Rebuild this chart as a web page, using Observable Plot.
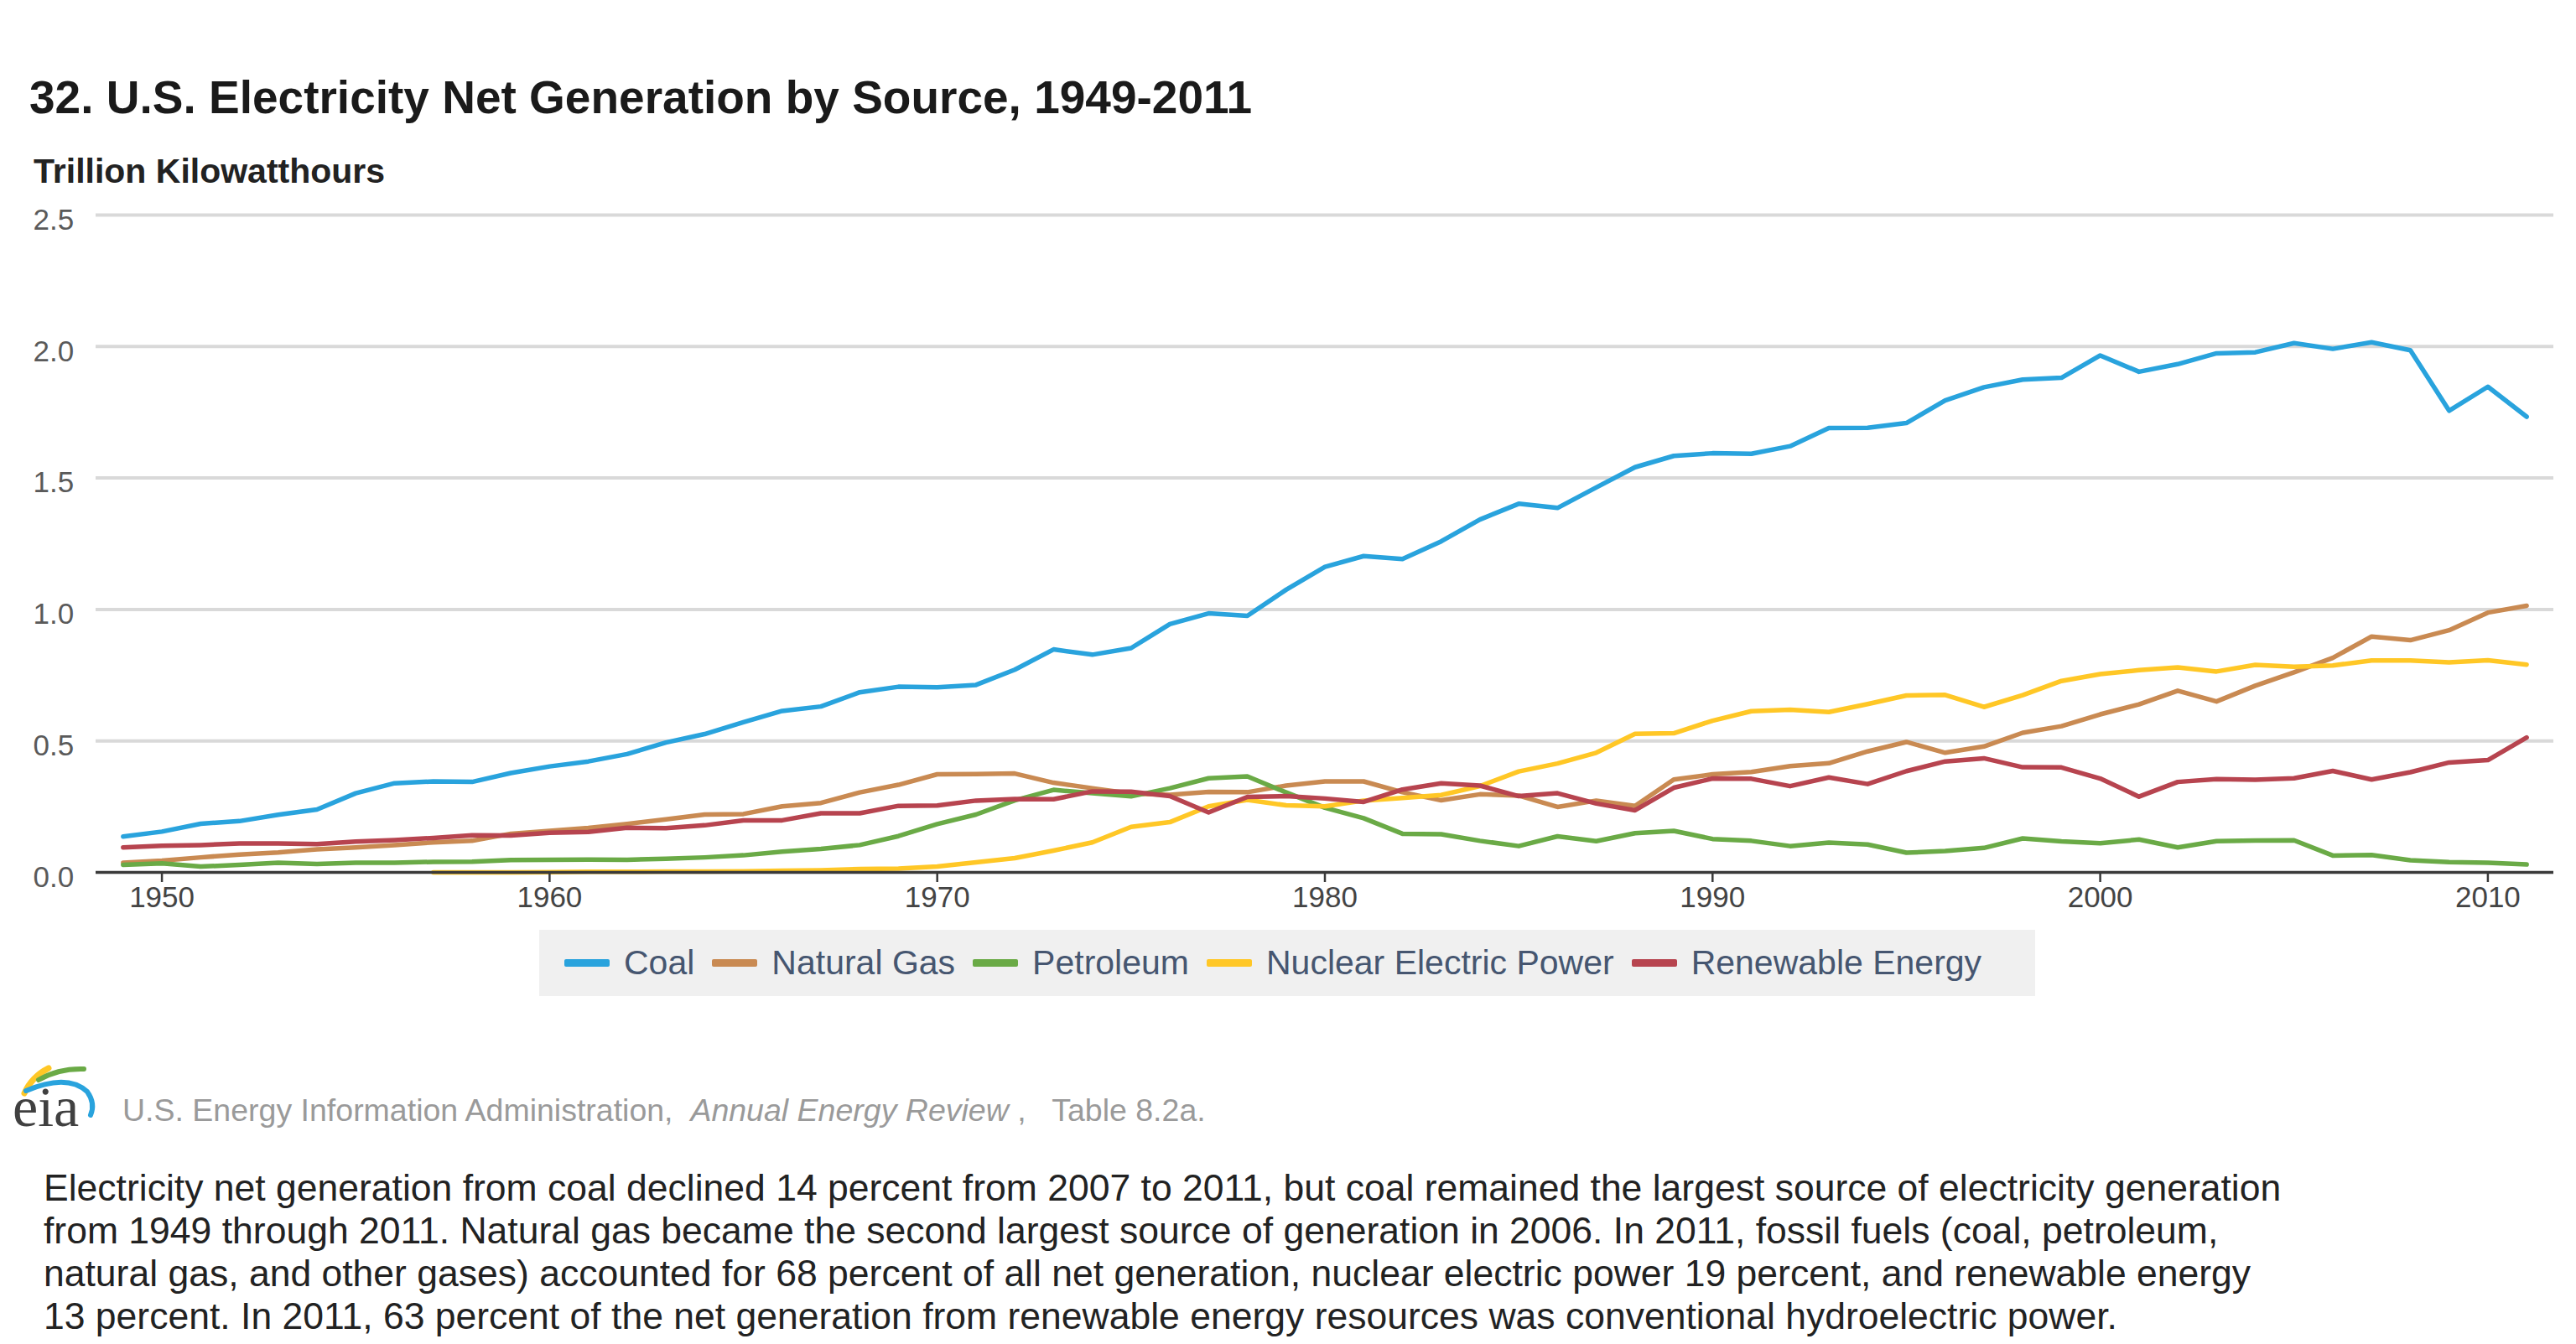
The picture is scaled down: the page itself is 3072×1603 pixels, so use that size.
<!DOCTYPE html>
<html>
<head>
<meta charset="utf-8">
<script src="https://cdn.jsdelivr.net/npm/d3@7"></script>
<script src="https://cdn.jsdelivr.net/npm/@observablehq/plot@0.6"></script>
<style>
  html, body { margin: 0; padding: 0; background: #fff; }
  body { width: 3072px; height: 1603px; position: relative; overflow: hidden;
         font-family: "Liberation Sans", Arial, Helvetica, sans-serif; }
  .abs { position: absolute; white-space: nowrap; line-height: 1; }
  #title { left: 35px; top: 89px; font-size: 55px; font-weight: bold; color: #1a1a1a; }
  #subtitle { left: 40px; top: 184px; font-size: 41px; font-weight: bold; color: #222; }
  #chart { position: absolute; left: 0; top: 225px; }
  #legend { left: 643px; top: 1109px; width: 1784px; height: 79px; background: #f0f0f0;
            display: flex; align-items: center; box-sizing: border-box; padding-left: 30px; }
  .item { display: flex; align-items: center; margin-right: 21px; font-size: 41px; color: #465670; }
  .sw { width: 54px; height: 9px; margin-right: 17px; border-radius: 2px; }
  #source { left: 146px; top: 1306px; font-size: 37.5px; color: #9a9a9a; }
  #logo { position: absolute; left: 0; top: 1260px; }
  #para { left: 52px; top: 1391px; font-size: 44.5px; color: #222; line-height: 51px; }
</style>
</head>
<body>
<div id="title" class="abs">32. U.S. Electricity Net Generation by Source, 1949-2011</div>
<div id="subtitle" class="abs">Trillion Kilowatthours</div>
<div id="chart"></div>
<div id="legend" class="abs"></div>
<svg id="logo" width="130" height="100" viewBox="0 0 130 100">
  <path d="M29 44 Q 38 24 58 14" fill="none" stroke="#ffc726" stroke-width="7" stroke-linecap="round"/>
  <path d="M46 28 Q 70 14 100 15" fill="none" stroke="#6aaa46" stroke-width="6" stroke-linecap="round"/>
  <path d="M31 41 Q 80 20 104 42 Q 114 56 108 70" fill="none" stroke="#29a3dd" stroke-width="6" stroke-linecap="round"/>
  <text x="15" y="83" font-family="Liberation Serif, DejaVu Serif, serif" font-size="68" fill="#404040">eia</text>
</svg>
<div id="source" class="abs">U.S. Energy Information Administration,&nbsp; <i>Annual Energy Review</i> ,&nbsp;&nbsp; Table 8.2a.</div>
<div id="para" class="abs">Electricity net generation from coal declined 14 percent from 2007 to 2011, but coal remained the largest source of electricity generation<br>from 1949 through 2011. Natural gas became the second largest source of generation in 2006. In 2011, fossil fuels (coal, petroleum,<br>natural gas, and other gases) accounted for 68 percent of all net generation, nuclear electric power 19 percent, and renewable energy<br>13 percent. In 2011, 63 percent of the net generation from renewable energy resources was conventional hydroelectric power.</div>

<script>
// ---- data (trillion kilowatthours) ----
const years = d3.range(1949, 2012);
const sources = ["Coal", "Natural Gas", "Petroleum", "Nuclear Electric Power", "Renewable Energy"];
const colors = ["#29a3dd", "#c98a52", "#6aaa46", "#ffc726", "#b7444f"];

const coal = [0.136,0.155,0.185,0.195,0.219,0.239,0.301,0.339,0.346,0.344,0.378,0.403,0.422,0.450,0.494,0.526,0.571,0.614,0.631,0.685,0.706,
  0.704,0.713,0.771,0.848,0.828,0.853,0.944,0.985,0.976,1.075,1.162,1.203,1.192,1.259,1.342,1.402,1.386,1.464,1.541,1.584,
  1.594,1.592,1.621,1.690,1.691,1.709,1.795,1.845,1.874,1.881,1.966,1.904,1.933,1.974,1.978,2.013,1.991,2.016,1.986,1.756,1.847,1.733];
const naturalGas = [0.037,0.045,0.057,0.068,0.076,0.088,0.095,0.104,0.114,0.120,0.147,0.158,0.169,0.184,0.202,0.220,0.222,0.251,0.264,0.304,0.333,
  0.373,0.374,0.376,0.341,0.320,0.300,0.295,0.306,0.305,0.330,0.346,0.346,0.305,0.274,0.297,0.292,0.249,0.273,0.253,0.353,
  0.373,0.382,0.404,0.415,0.460,0.496,0.455,0.479,0.531,0.556,0.601,0.639,0.691,0.650,0.710,0.761,0.816,0.897,0.883,0.921,0.988,1.014];
const petroleum = [0.029,0.034,0.022,0.029,0.037,0.032,0.037,0.037,0.040,0.041,0.047,0.048,0.049,0.048,0.052,0.057,0.065,0.079,0.089,0.104,0.138,
  0.184,0.220,0.274,0.314,0.301,0.289,0.320,0.358,0.365,0.304,0.246,0.206,0.147,0.145,0.120,0.100,0.137,0.119,0.149,0.158,
  0.127,0.120,0.100,0.113,0.106,0.075,0.081,0.093,0.129,0.118,0.111,0.125,0.095,0.119,0.121,0.122,0.064,0.066,0.046,0.039,0.037,0.030];
const nuclearYears = d3.range(1957, 2012);
const nuclear = [0.000,0.000,0.000,0.001,0.002,0.002,0.003,0.003,0.004,0.006,0.008,0.013,0.014,
  0.022,0.038,0.054,0.083,0.114,0.173,0.191,0.251,0.276,0.255,0.251,0.273,0.283,0.294,0.328,0.384,0.414,0.455,0.527,0.529,
  0.577,0.613,0.619,0.610,0.640,0.673,0.675,0.629,0.674,0.728,0.754,0.769,0.780,0.764,0.789,0.782,0.787,0.806,0.806,0.799,0.807,0.790];
const renewable = [0.095,0.101,0.104,0.110,0.110,0.108,0.117,0.123,0.131,0.141,0.140,0.151,0.154,0.170,0.168,0.179,0.198,0.198,0.225,0.225,0.253,
  0.254,0.273,0.279,0.278,0.308,0.307,0.290,0.228,0.287,0.290,0.281,0.268,0.315,0.339,0.330,0.290,0.301,0.262,0.236,0.322,
  0.357,0.356,0.328,0.361,0.336,0.385,0.422,0.434,0.400,0.399,0.357,0.288,0.344,0.355,0.352,0.358,0.386,0.353,0.381,0.418,0.427,0.513];

const yTicks = [0, 0.5, 1.0, 1.5, 2.0, 2.5];
const xTicks = [1950, 1960, 1970, 1980, 1990, 2000, 2010];

// ---- build table ----
const series = [
  [sources[0], years, coal],
  [sources[1], years, naturalGas],
  [sources[2], years, petroleum],
  [sources[3], nuclearYears, nuclear],
  [sources[4], years, renewable]
];
const rows = series.flatMap(([s, ys, vs]) => ys.map((yr, i) => ({source: s, year: yr, value: vs[i]})));

const font = '"Liberation Sans", Arial, Helvetica, sans-serif';
const chart = Plot.plot({
  width: 3072,
  height: 875,
  marginLeft: 114,
  marginRight: 27,
  marginTop: 31,
  marginBottom: 60,
  style: {fontFamily: font, background: "transparent", color: "#333", overflow: "visible"},
  x: {domain: [1948.3, 2011.7]},
  y: {domain: [0, 2.5]},
  color: {domain: sources, range: colors},
  marks: [
    Plot.gridY(yTicks.slice(1), {stroke: "#d9d9d9", strokeOpacity: 1, strokeWidth: 4}),
    Plot.axisY(yTicks, {tickSize: 0, tickPadding: 0, textAnchor: "start", dx: -75, dy: 6,
      tickFormat: d3.format(".1f"), fontSize: 35, fill: "#5a5a5a", label: null}),
    Plot.line(rows, {x: "year", y: "value", z: "source", stroke: "source", strokeWidth: 5.5}),
    Plot.ruleY([0], {stroke: "#3a3a3a", strokeWidth: 3.5}),
    Plot.axisX(xTicks, {tickSize: 12, tickPadding: 5, tickFormat: d3.format("d"), fontSize: 35,
      fill: "#444", stroke: "#3a3a3a", strokeWidth: 2.5, label: null})
  ]
});
document.getElementById("chart").appendChild(chart);

// ---- legend ----
const legend = document.getElementById("legend");
sources.forEach((s, i) => {
  const it = document.createElement("div");
  it.className = "item";
  const sw = document.createElement("span");
  sw.className = "sw";
  sw.style.background = colors[i];
  const tx = document.createElement("span");
  tx.textContent = s;
  it.appendChild(sw); it.appendChild(tx);
  legend.appendChild(it);
});
</script>
</body>
</html>
